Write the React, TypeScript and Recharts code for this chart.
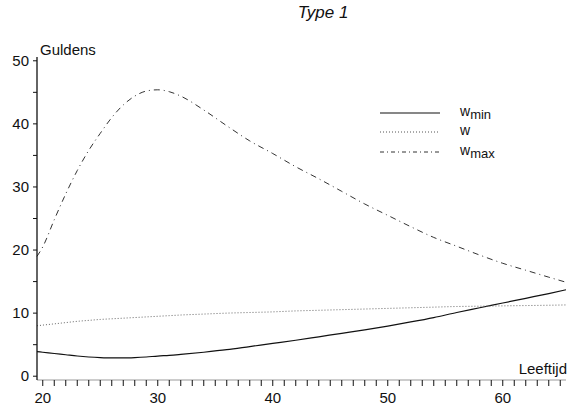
import React from "react";
import { LineChart, Line, XAxis, YAxis } from "recharts";

const ages = [19.5, 20, 21, 22, 23, 24, 25, 26, 27, 28, 29, 30, 31, 32, 34, 36, 38, 40, 42, 44, 46, 48, 50, 52, 54, 56, 58, 60, 62, 64, 65.5];
const wminValues = [3.9, 3.8, 3.6, 3.4, 3.2, 3.05, 2.95, 2.9, 2.9, 2.95, 3.05, 3.2, 3.3, 3.45, 3.8, 4.2, 4.7, 5.2, 5.7, 6.25, 6.8, 7.35, 7.95, 8.6, 9.3, 10.1, 10.85, 11.6, 12.35, 13.1, 13.7];
const wValues = [8.0, 8.1, 8.3, 8.5, 8.7, 8.85, 9.0, 9.1, 9.2, 9.3, 9.4, 9.5, 9.6, 9.7, 9.85, 10.0, 10.1, 10.2, 10.35, 10.45, 10.55, 10.65, 10.75, 10.85, 10.95, 11.05, 11.1, 11.15, 11.2, 11.25, 11.3];
const wmaxValues = [19.0, 20.5, 24.8, 28.9, 32.6, 35.8, 38.5, 41.0, 43.0, 44.4, 45.2, 45.4, 45.1, 44.4, 42.2, 39.7, 37.3, 35.3, 33.2, 31.3, 29.3, 27.3, 25.5, 23.7, 22.0, 20.6, 19.2, 17.9, 16.8, 15.7, 14.9];

const xTicks = Array.from({ length: 46 }, (_, i) => 20 + i);
const yTicks = [0, 5, 10, 15, 20, 25, 30, 35, 40, 45, 50];

const data = ages.map((a, i) => ({ age: a, wmin: wminValues[i], w: wValues[i], wmax: wmaxValues[i] }));

const font = "'Liberation Sans', Arial, sans-serif";

const XTick = (props: any) => {
  const { x, y, payload } = props;
  const v = payload.value;
  return (
    <g>
      <line x1={x} y1={y} x2={x} y2={y + 6} stroke="#111" strokeWidth={1} />
      {v % 10 === 0 && (
        <text x={x} y={y + 23} textAnchor="middle" fontSize={15} fill="#111" fontFamily={font}>
          {v}
        </text>
      )}
    </g>
  );
};

const YTick = (props: any) => {
  const { x, y, payload } = props;
  const v = payload.value;
  return (
    <g>
      <line x1={x - 4} y1={y} x2={x} y2={y} stroke="#111" strokeWidth={1} />
      {v % 10 === 0 && (
        <text x={x - 8} y={y + 5} textAnchor="end" fontSize={15} fill="#111" fontFamily={font}>
          {v}
        </text>
      )}
    </g>
  );
};

const legendItems = [
  { label: "min", dash: undefined, color: "#111", width: 1.2 },
  { label: "", dash: "1 2", color: "#555", width: 1 },
  { label: "max", dash: "4 3 1 3", color: "#333", width: 1 },
];

const LegendBox = () => (
  <div style={{ position: "absolute", left: 380, top: 103, fontFamily: font, color: "#111" }}>
    {legendItems.map((it, i) => (
      <div key={i} style={{ display: "flex", alignItems: "center", height: 19.5 }}>
        <svg width={62} height={6} style={{ marginRight: 18 }}>
          <line x1={0} y1={3} x2={60} y2={3} stroke={it.color} strokeWidth={it.width} strokeDasharray={it.dash} />
        </svg>
        <span style={{ fontSize: 14, position: "relative", top: -2 }}>
          w<span style={{ fontSize: 13, position: "relative", top: 3 }}>{it.label}</span>
        </span>
      </div>
    ))}
  </div>
);

export default function App() {
  return (
    <div style={{ position: "absolute", left: 0, top: 0, width: 582, height: 410, background: "#fff" }}>
      <LineChart width={582} height={410} data={data} margin={{ top: 57, right: 16, bottom: 0, left: 0 }}>
        <text x={323} y={18} textAnchor="middle" fontSize={17} fontStyle="italic" fill="#111" fontFamily={font}>
          Type 1
        </text>
        <text x={40} y={55} fontSize={15} fill="#111" fontFamily={font}>
          Guldens
        </text>
        <text x={567} y={374} textAnchor="end" fontSize={15} fill="#111" fontFamily={font}>
          Leeftijd
        </text>
        <XAxis
          dataKey="age"
          type="number"
          domain={[19.5, 65.5]}
          ticks={xTicks}
          interval={0}
          height={30}
          tickSize={0}
          tickMargin={0}
          tickLine={false}
          tick={<XTick />}
          axisLine={{ stroke: "#999", strokeWidth: 1 }}
        />
        <YAxis
          type="number"
          domain={[-0.6, 50.6]}
          ticks={yTicks}
          interval={0}
          width={37}
          tickSize={0}
          tickMargin={0}
          tickLine={false}
          tick={<YTick />}
          axisLine={{ stroke: "#111", strokeWidth: 1.3 }}
        />
        <Line type="monotone" dataKey="wmin" stroke="#111" strokeWidth={1.2} dot={false} isAnimationActive={false} />
        <Line type="monotone" dataKey="w" stroke="#666" strokeWidth={1} strokeDasharray="1 2" dot={false} isAnimationActive={false} />
        <Line type="monotone" dataKey="wmax" stroke="#333" strokeWidth={1} strokeDasharray="6 4 1 4" dot={false} isAnimationActive={false} />
      </LineChart>
      <LegendBox />
    </div>
  );
}
